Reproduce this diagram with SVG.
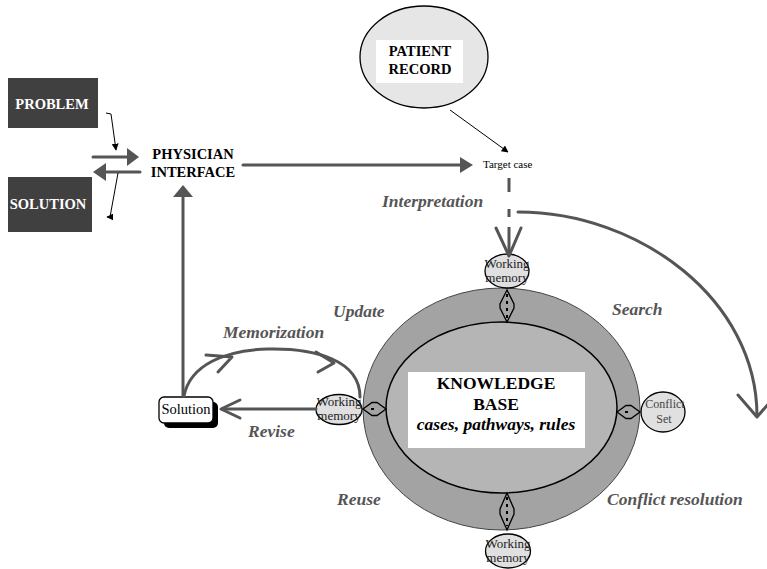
<svg xmlns="http://www.w3.org/2000/svg" width="767" height="569" viewBox="0 0 767 569">
<defs>
<style>
.lbl{font-family:"Liberation Serif",serif;font-weight:bold;font-style:italic;font-size:17.5px;fill:#555}
.wm{font-family:"Liberation Serif",serif;font-size:13px;fill:#222;text-anchor:middle}
.box{font-family:"Liberation Serif",serif;font-weight:bold;font-size:14.5px;fill:#fff;text-anchor:middle}
.bt{font-family:"Liberation Serif",serif;font-weight:bold;font-size:14.5px;fill:#000;text-anchor:middle}
.g{stroke:#555;stroke-width:3;fill:none;stroke-linecap:round;stroke-linejoin:round}
.thin{stroke:#000;stroke-width:1;fill:none}
.dia{stroke:#000;stroke-width:1.3;fill:none}
.dot{stroke:#000;stroke-width:2;stroke-dasharray:3,4;fill:none}
.wmell{fill:#e0e0e0;stroke:#000;stroke-width:1.3}
</style>
<marker id="ah" viewBox="0 0 10 10" refX="9" refY="5" markerWidth="7" markerHeight="7" orient="auto" markerUnits="userSpaceOnUse">
<path d="M0,0 L10,5 L0,10 z" fill="#000"/>
</marker>
</defs>
<rect width="767" height="569" fill="#fff"/>

<g id="knowledge-base">
<ellipse cx="501.5" cy="409" rx="138.5" ry="121" fill="#a3a3a3" stroke="#444" stroke-width="1"/>
<ellipse cx="501.5" cy="407.5" rx="115.5" ry="85.5" fill="#b5b5b5" stroke="#000" stroke-width="1.5"/>
<rect x="408" y="372" width="177" height="76" fill="#fff"/>
<text x="496" y="389" class="bt" style="font-size:17.5px">KNOWLEDGE</text>
<text x="496" y="410" class="bt" style="font-size:17.5px">BASE</text>
<text x="496" y="430" class="bt" style="font-size:17.5px;font-style:italic">cases, pathways, rules</text>
</g>

<g id="problem">
<rect x="8" y="78" width="90" height="50" fill="#404040"/>
<text x="52" y="109" class="box">PROBLEM</text>
</g>
<g id="solution-box">
<rect x="8" y="177" width="84" height="55" fill="#404040"/>
<text x="48" y="209" class="box">SOLUTION</text>
</g>
<g id="physician-interface">
<text x="193" y="159" class="bt">PHYSICIAN</text>
<text x="193" y="177" class="bt">INTERFACE</text>
</g>
<g id="patient-record">
<ellipse cx="424" cy="57" rx="64" ry="51" fill="#e6e6e6" stroke="#000" stroke-width="1.3"/>
<rect x="376" y="40" width="87" height="43" fill="#fff"/>
<text x="420" y="56" class="bt">PATIENT</text>
<text x="420" y="74" class="bt">RECORD</text>
</g>
<g id="target-case">
<text x="483" y="168" style="font-family:'Liberation Serif',serif;font-size:11px;fill:#000">Target case</text>
</g>
<g id="wm-top">
<ellipse cx="507" cy="271" rx="22" ry="17" class="wmell"/>
<text x="507" y="268" class="wm">Working</text>
<text x="507" y="282" class="wm">memory</text>
</g>
<g id="wm-left">
<ellipse cx="339" cy="409.5" rx="23" ry="15" class="wmell"/>
<text x="339" y="406" class="wm">Working</text>
<text x="339" y="420" class="wm">memory</text>
</g>
<g id="wm-bottom">
<ellipse cx="508" cy="551" rx="22.5" ry="17" class="wmell"/>
<text x="508" y="548" class="wm">Working</text>
<text x="508" y="562" class="wm">memory</text>
</g>
<g id="conflict-set">
<ellipse cx="663" cy="412" rx="22" ry="20" class="wmell"/>
<text x="665" y="408" class="wm" style="font-size:12px;fill:#444">Conflict</text>
<text x="664" y="423" class="wm" style="font-size:12px;fill:#444">Set</text>
</g>
<g id="solution">
<rect x="164" y="402" width="54" height="26" rx="5" fill="#000"/>
<rect x="159" y="397" width="54" height="26" rx="5" fill="#fff" stroke="#000" stroke-width="1.3"/>
<text x="186" y="414" style="font-family:'Liberation Serif',serif;font-size:14.5px;fill:#000;text-anchor:middle">Solution</text>
</g>

<g id="labels">
<text x="382" y="207" class="lbl">Interpretation</text>
<text x="333" y="317" class="lbl">Update</text>
<text x="223" y="338" class="lbl">Memorization</text>
<text x="248" y="437" class="lbl">Revise</text>
<text x="612" y="315" class="lbl">Search</text>
<text x="337" y="505" class="lbl">Reuse</text>
<text x="607" y="505" class="lbl">Conflict resolution</text>
</g>

<g id="connectors">
<line x1="93" y1="157" x2="128" y2="157" class="g"/>
<polygon points="127,148 139,157 127,166" fill="#555"/>
<line x1="140" y1="172" x2="105" y2="172" class="g"/>
<polygon points="106,163 93,172 106,181" fill="#555"/>
<path d="M106,113 L111,114 L116,150" class="thin" marker-end="url(#ah)"/>
<path d="M118,173 L110,217 L107,217" class="thin" marker-end="url(#ah)"/>
<line x1="243" y1="165" x2="461" y2="165" class="g"/>
<polygon points="460,157 473,165 460,173" fill="#555"/>
<line x1="450" y1="110" x2="508" y2="152" class="thin" marker-end="url(#ah)"/>
<line x1="509" y1="178" x2="509" y2="192" class="g" style="stroke-linecap:butt"/>
<line x1="509" y1="209" x2="509" y2="217" class="g" style="stroke-linecap:butt"/>
<line x1="509" y1="227" x2="509" y2="256" class="g" style="stroke-linecap:butt"/>
<path d="M496,228 L509,256 L521,228" class="g"/>
<path d="M518,212 C640,212 757,300 757,416" class="g"/>
<path d="M738,395 L757,417 L776,395" class="g"/>
<line x1="183" y1="397" x2="183" y2="196" class="g" style="stroke-linecap:butt"/>
<polygon points="173,197 183,185 193,197" fill="#555"/>
<path d="M184,396 C190,365 225,350 268,349 C315,348 360,360 360,397" class="g"/>
<path d="M206,355 L232,357 L218,372" class="g"/>
<path d="M316,352 L334,363 L318,372" class="g"/>
<line x1="316" y1="409" x2="222" y2="409" class="g"/>
<path d="M240,400 L221,409 L240,418" class="g"/>
<path d="M507,290 L500,304 L500,308 L507,322 L514,308 L514,304 Z" class="dia"/>
<line x1="507" y1="294" x2="507" y2="318" class="dot"/>
<path d="M507,493 L500,509 L500,514 L507,530 L514,514 L514,509 Z" class="dia"/>
<line x1="507" y1="497" x2="507" y2="526" class="dot"/>
<path d="M363,409 L372,402.5 L377,402.5 L386,409 L377,415.5 L372,415.5 Z" class="dia"/>
<line x1="371" y1="409" x2="378" y2="409" class="dot"/>
<path d="M617,412 L626,405.5 L631,405.5 L640,412 L631,418.5 L626,418.5 Z" class="dia"/>
<line x1="625" y1="412" x2="632" y2="412" class="dot"/>
</g>
</svg>
